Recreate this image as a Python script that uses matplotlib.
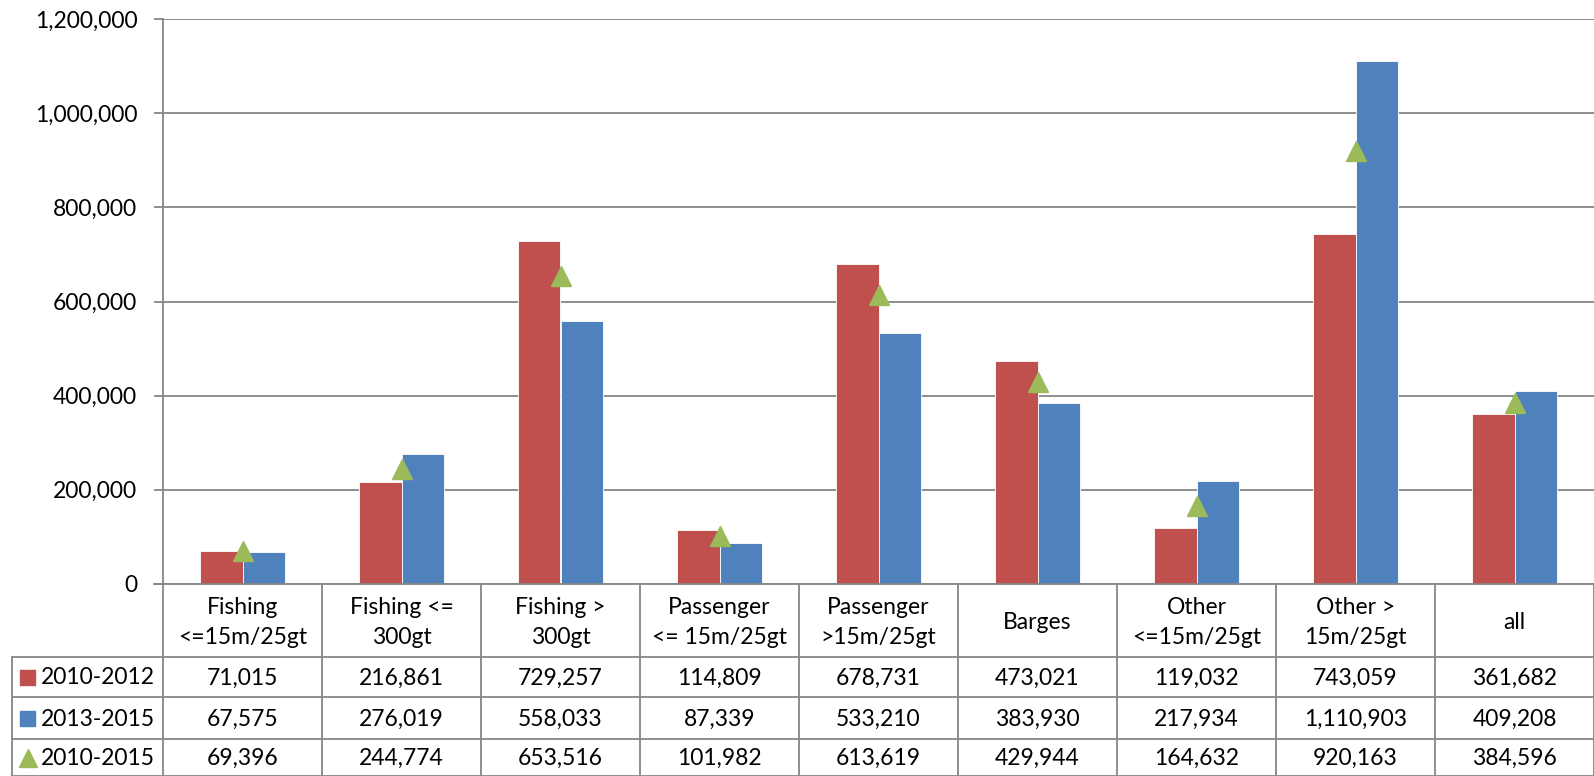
import matplotlib
matplotlib.use("Agg")
import matplotlib.pyplot as plt
from matplotlib.lines import Line2D
from matplotlib.patches import Rectangle

categories = ["Fishing\n<=15m/25gt", "Fishing <=\n300gt", "Fishing >\n300gt",
              "Passenger\n<= 15m/25gt", "Passenger\n>15m/25gt", "Barges",
              "Other\n<=15m/25gt", "Other >\n15m/25gt", "all"]
s_2010_2012 = [71015, 216861, 729257, 114809, 678731, 473021, 119032, 743059, 361682]
s_2013_2015 = [67575, 276019, 558033, 87339, 533210, 383930, 217934, 1110903, 409208]
s_2010_2015 = [69396, 244774, 653516, 101982, 613619, 429944, 164632, 920163, 384596]
series_names = ["2010-2012", "2013-2015", "2010-2015"]

RED = "#C0504D"
BLUE = "#4F81BD"
GREEN = "#9BBB59"
GRID = "#868686"
FS = 16.5

plt.rcParams['font.family'] = ['Lato', 'DejaVu Sans']

W, H = 1594, 776
fig = plt.figure(figsize=(W / 100, H / 100), dpi=100)
ax_left, ax_right, ax_top, ax_bot = 163, 1594, 19, 584
ax = fig.add_axes([ax_left / W, 1 - ax_bot / H, (ax_right - ax_left) / W, (ax_bot - ax_top) / H])

n = len(categories)
x = list(range(n))
bw = 0.27
ax.bar([i - bw / 2 for i in x], s_2010_2012, width=bw, color=RED, edgecolor="white", linewidth=0.6, zorder=3)
ax.bar([i + bw / 2 for i in x], s_2013_2015, width=bw, color=BLUE, edgecolor="white", linewidth=0.6, zorder=3)
ax.plot(x, s_2010_2015, linestyle="none", marker="^", color=GREEN, markersize=15, zorder=4)

ax.set_xlim(-0.5, n - 0.5)
ax.set_ylim(0, 1200000)
ax.set_yticks(range(0, 1200001, 200000))
ax.set_yticklabels([f"{v:,}" for v in range(0, 1200001, 200000)], fontsize=FS)
ax.yaxis.grid(True, color=GRID, linewidth=1.3, zorder=0)
ax.set_xticks([])
for sp in ["top", "right", "bottom"]:
    ax.spines[sp].set_visible(False)
ax.spines["left"].set_color(GRID)
ax.spines["left"].set_linewidth(1.3)
ax.tick_params(axis="y", length=6.5, color=GRID, width=1.3, pad=12)

# data table below the plot (pixel rows)
def fy(py):
    return 1 - py / H

def fx_data(xd):
    return (ax_left + (xd + 0.5) / n * (ax_right - ax_left)) / W

row_lines = [584, 657, 697, 739, 776]
table_left = 12
lw = 1.3
# header row verticals
for i in range(n + 1):
    xf = fx_data(i - 0.5)
    fig.add_artist(Line2D([xf, xf], [fy(584), fy(776)], color=GRID, linewidth=lw))
# x axis line extends slightly left
fig.add_artist(Line2D([(ax_left - 9) / W, 1], [fy(584), fy(584)], color=GRID, linewidth=lw))
for py in row_lines[1:]:
    fig.add_artist(Line2D([table_left / W, 1], [fy(py), fy(py)], color=GRID, linewidth=lw))
fig.add_artist(Line2D([table_left / W, table_left / W], [fy(657), fy(776)], color=GRID, linewidth=lw))

for i, c in enumerate(categories):
    fig.text(fx_data(i), fy((584 + 657) / 2 + 2), c, ha="center", va="center",
             fontsize=FS, linespacing=1.55)

rows = [s_2010_2012, s_2013_2015, s_2010_2015]
for r, vals in enumerate(rows):
    yc = fy((row_lines[r + 1] + row_lines[r + 2]) / 2 + 1)
    for i, v in enumerate(vals):
        fig.text(fx_data(i), yc, f"{v:,}", ha="center", va="center", fontsize=FS)
    fig.text(41 / W, yc, series_names[r], ha="left", va="center", fontsize=FS)

# legend keys
key_y = [(657 + 697) / 2, (697 + 739) / 2, (739 + 776) / 2]
for col, yk in zip([RED, BLUE], key_y[:2]):
    fig.add_artist(Rectangle((20 / W, fy(yk + 7.5)), 15 / W, 15 / H, color=col))
fig.add_artist(Line2D([27.5 / W], [fy(key_y[2])], marker="^", color=GREEN, markersize=13, linestyle="none"))

fig.savefig("out.png", dpi=100)
